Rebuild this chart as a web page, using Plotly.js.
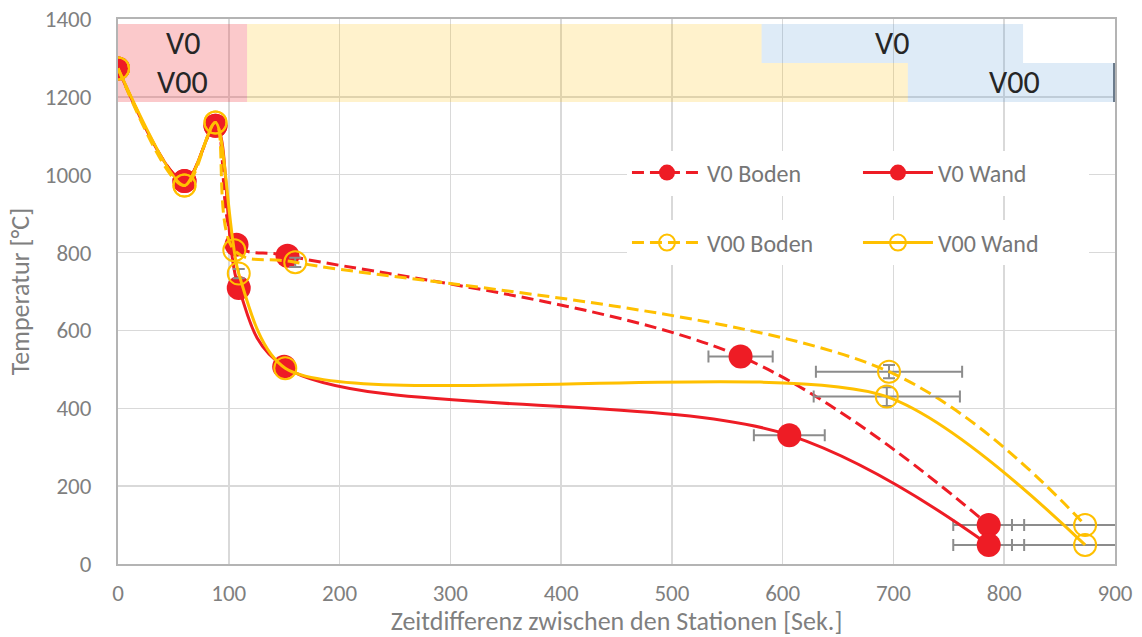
<!DOCTYPE html>
<html><head><meta charset="utf-8">
<script src="https://cdn.plot.ly/plotly-3.0.1.min.js"></script>
<style>html,body{margin:0;padding:0;background:#fff}#chart{width:1142px;height:637px}</style>
</head><body><div id="chart"></div>
<script>
// ---- data ----
const xTitle = 'Zeitdifferenz zwischen den Stationen [Sek.]';
const yTitle = 'Temperatur [°C]';
const xRange = [0, 900];
const yRange = [0, 1400];

const v0BodenX = [0, 60, 88, 107, 153, 562, 786];
const v0BodenY = [1273, 984, 1126, 820, 792, 533, 100];
const v0BodenErrX = [NaN, NaN, NaN, NaN, NaN, 29, 32];
const v0BodenErrY = [NaN, NaN, NaN, NaN, NaN, NaN, NaN];

const v0WandX = [0, 60, 88, 109, 150, 606, 786];
const v0WandY = [1273, 984, 1126, 709, 507, 331, 49];
const v0WandErrX = [NaN, NaN, NaN, NaN, NaN, 32, 32];
const v0WandErrY = [NaN, NaN, NaN, 20, NaN, NaN, NaN];

const v00BodenX = [0, 60, 88, 105, 160, 696, 873];
const v00BodenY = [1273, 972, 1134, 806, 775, 494, 100];
const v00BodenErrX = [NaN, NaN, NaN, NaN, NaN, 66, 66];
const v00BodenErrY = [NaN, NaN, NaN, NaN, 12, 17, NaN];

const v00WandX = [0, 60, 88, 109, 151, 694, 873];
const v00WandY = [1273, 972, 1134, 746, 503, 430, 49];
const v00WandErrX = [NaN, NaN, NaN, NaN, NaN, 66, 66];
const v00WandErrY = [NaN, NaN, NaN, 12, NaN, 24, NaN];

// phase bands (Gantt overlay), one row per run
const bandRows = ['V0', 'V00'];
const rowBottom = [1287, 1187];
const rowTop = [1387, 1287];
const phase1End = [116.5, 116.5];
const phase2End = [581, 713];
const phase3End = [817, 906];
const markerX = 900;   // dark end mark in the V00 row

// ---- styling ----
const FONT = 'Carlito, Calibri, Lato, "Open Sans", sans-serif';
const RED = '#EE1C25';
const YEL = '#FFC000';
const ERR = '#8C8C8C';

function trace(name, x, y, ex, ey, color, dash, filled, legend, smooth) {
  return {
    type: 'scatter', mode: 'lines+markers', name: name, x: x, y: y, legend: legend,
    line: {color: color, width: 3, dash: dash, shape: 'spline', smoothing: smooth},
    marker: filled ? {symbol: 'circle', size: 24, color: color, line: {width: 0}}
                   : {symbol: 'circle-open', size: 22, color: color, line: {width: 2, color: color}},
    error_x: {type: 'data', array: ex, visible: true, color: ERR, thickness: 2, width: 6},
    error_y: {type: 'data', array: ey, visible: true, color: ERR, thickness: 2, width: 6},
    hoverinfo: 'skip'
  };
}

const DASH = '12px,6px';
const data = [
  trace('V0 Boden', v0BodenX, v0BodenY, v0BodenErrX, v0BodenErrY, RED, DASH, true, 'legend', 1),
  trace('V0 Wand', v0WandX, v0WandY, v0WandErrX, v0WandErrY, RED, 'solid', true, 'legend', 1),
  trace('V00 Boden', v00BodenX, v00BodenY, v00BodenErrX, v00BodenErrY, YEL, DASH, false, 'legend2', 1),
  trace('V00 Wand', v00WandX, v00WandY, v00WandErrX, v00WandErrY, YEL, 'solid', false, 'legend2', 0.75)
];

const shapes = [];
const annotations = [];
const PINK = 'rgba(237,28,36,0.24)';
const YELLOWB = 'rgba(255,192,0,0.2)';
const BLUE = 'rgba(91,155,213,0.2)';
for (let i = 0; i < bandRows.length; i++) {
  const segs = [[xRange[0], phase1End[i], PINK], [phase1End[i], phase2End[i], YELLOWB], [phase2End[i], phase3End[i], BLUE]];
  segs.forEach(s => shapes.push({type: 'rect', xref: 'x', yref: 'y', layer: 'between',
    x0: s[0], x1: s[1], y0: rowBottom[i], y1: rowTop[i], fillcolor: s[2], line: {width: 0}}));
  const yc = (rowBottom[i] + rowTop[i]) / 2;
  annotations.push({x: (xRange[0] + phase1End[i]) / 2, y: yc, text: bandRows[i], showarrow: false,
    xref: 'x', yref: 'y', font: {size: 32, color: '#262626', family: FONT}});
  annotations.push({x: (phase2End[i] + phase3End[i]) / 2, y: yc, text: bandRows[i], showarrow: false,
    xref: 'x', yref: 'y', font: {size: 32, color: '#262626', family: FONT}});
}
shapes.push({type: 'line', xref: 'x', yref: 'y', layer: 'above', x0: markerX, x1: markerX,
  y0: rowBottom[1], y1: rowTop[1], line: {color: '#6B7B8C', width: 4}});

const axisCommon = {
  showgrid: true, gridcolor: '#D9D9D9', gridwidth: 1.5, zeroline: false,
  showline: true, linecolor: '#B4B4B4', linewidth: 2, mirror: true,
  ticks: '', tickfont: {size: 23, color: '#7F7F7F', family: FONT}
};

const legendCommon = {orientation: 'h', x: 0.5105, xanchor: 'left', yanchor: 'middle',
  bgcolor: '#ffffff', borderwidth: 0, entrywidth: 146, itemwidth: 70,
  font: {size: 24, color: '#767676', family: FONT}};

const layout = {
  width: 1142, height: 637,
  margin: {l: 118, r: 27, t: 19, b: 73},
  paper_bgcolor: '#ffffff', plot_bgcolor: '#ffffff',
  font: {family: FONT, color: '#7F7F7F', size: 20},
  xaxis: Object.assign({}, axisCommon, {range: xRange, tick0: 0, dtick: 100, automargin: false,
    ticklabelstandoff: 7,
    title: {text: xTitle, font: {size: 26, color: '#7F7F7F', family: FONT}, standoff: 12}}),
  yaxis: Object.assign({}, axisCommon, {range: yRange, tick0: 0, dtick: 200, automargin: false,
    ticklabelstandoff: 20,
    title: {text: yTitle, font: {size: 26, color: '#7F7F7F', family: FONT}, standoff: 8}}),
  legend: Object.assign({}, legendCommon, {y: 0.7174}),
  legend2: Object.assign({}, legendCommon, {y: 0.589}),
  shapes: shapes,
  annotations: annotations,
  hovermode: false
};

Plotly.newPlot('chart', data, layout, {staticPlot: true, displayModeBar: false});
</script></body></html>
